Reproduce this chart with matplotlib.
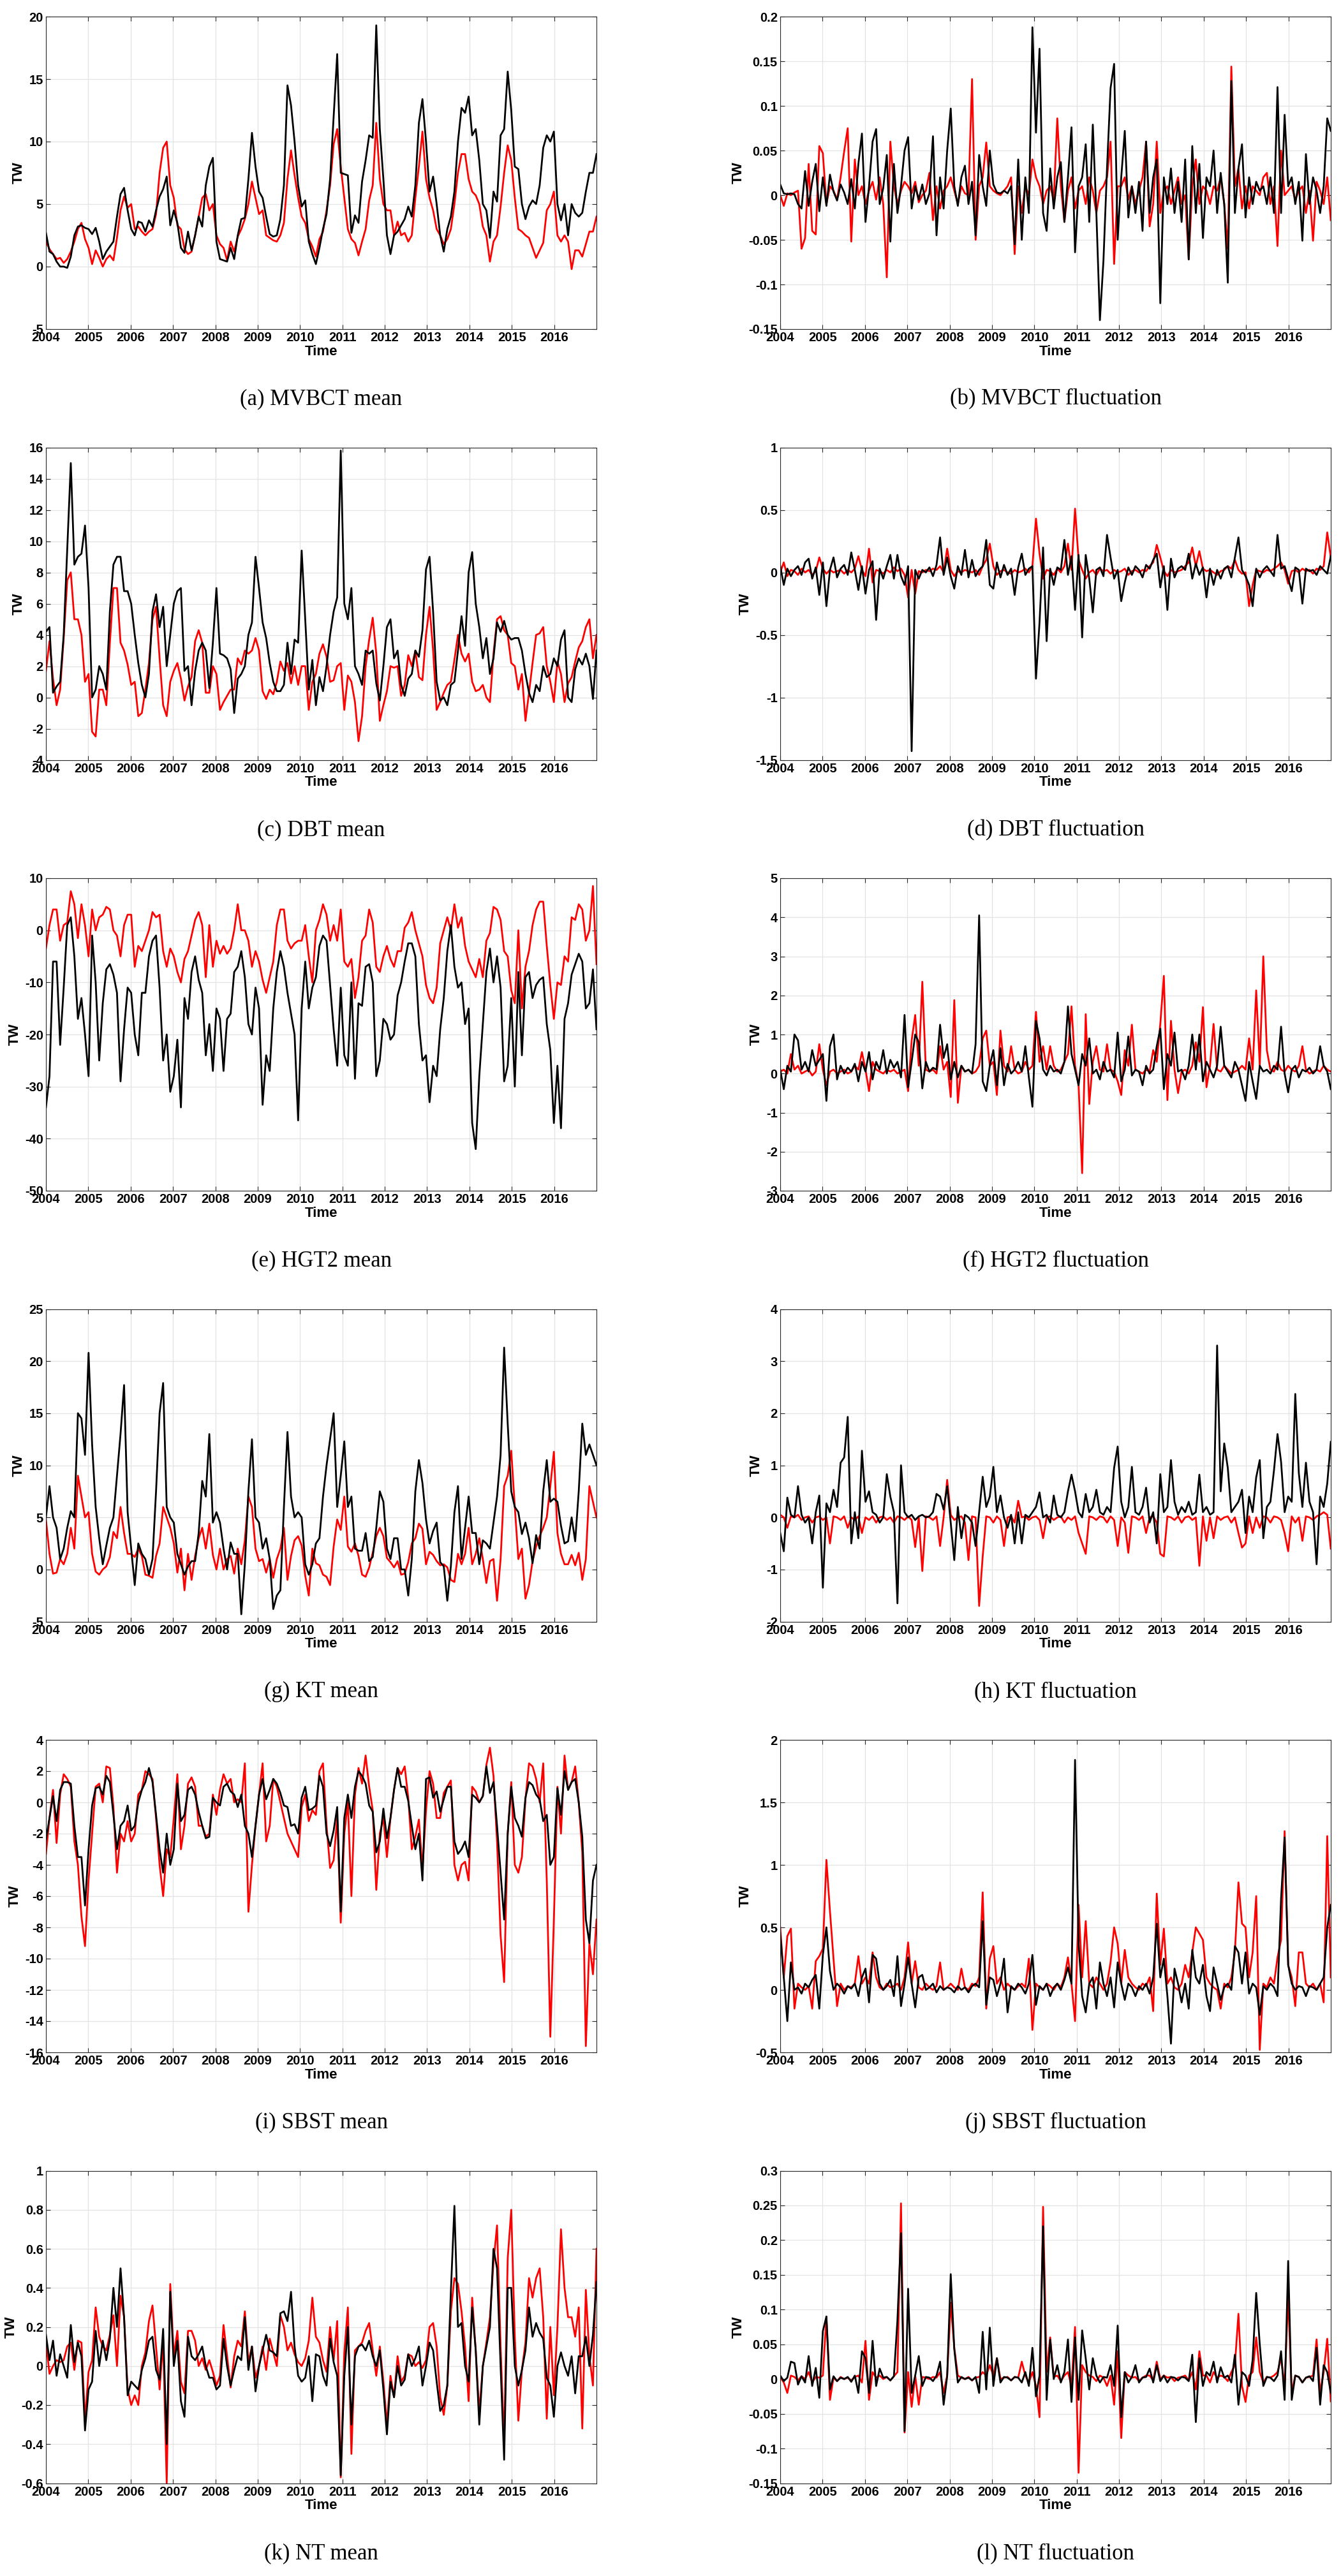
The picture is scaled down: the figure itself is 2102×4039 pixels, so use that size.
import matplotlib
matplotlib.use("Agg")
import matplotlib.pyplot as plt
from matplotlib.ticker import FuncFormatter
import numpy as np

# monthly readings, Jan 2004 .. Dec 2016 (12 values per line = one year)

mvbct_mean_red = [
    2.0, 1.4, 1.0, 0.6, 0.7, 0.3, 0.6, 1.2, 2.0, 3.0, 3.5, 2.2,
    1.5, 0.2, 1.3, 0.7, 0.0, 0.6, 0.9, 0.5, 2.3, 4.5, 5.6, 4.7,
    5.0, 3.0, 3.2, 2.8, 2.5, 2.8, 3.0, 4.2, 7.5, 9.5, 10.0, 6.5,
    5.5, 3.3, 3.0, 1.4, 1.0, 1.2, 2.5, 4.0, 5.5, 5.8, 4.5, 5.0,
    2.5, 1.8, 1.5, 0.5, 2.0, 1.2, 2.4, 3.0, 3.8, 5.0, 6.8, 5.5,
    4.2, 4.5, 2.5, 2.3, 2.1, 2.0, 2.5, 3.5, 7.0, 9.3, 7.3, 5.5,
    4.0, 3.5, 2.2, 1.6, 0.8, 2.2, 2.8, 4.5, 6.5, 9.8, 11.0, 8.0,
    5.5, 3.0, 2.2, 1.9, 0.9, 2.0, 3.0, 5.3, 6.5, 11.5, 7.0, 5.0,
    4.5, 4.5, 2.5, 3.6, 2.5, 2.7, 2.0, 2.5, 5.5, 8.0, 10.8, 7.0,
    5.5, 4.5, 3.0, 2.5, 1.8, 2.2, 3.0, 5.0, 7.5, 9.0, 9.0, 7.0,
    6.0, 5.7, 5.0, 3.2, 2.5, 0.4, 2.0, 2.5, 4.8, 7.5, 9.7, 8.5,
    5.5, 3.0, 2.8, 2.5, 2.3, 1.5, 0.7, 1.3, 1.9, 4.5, 5.0, 6.0,
    2.5, 2.0, 2.5, 2.0, -0.2, 1.3, 1.3, 0.8, 1.8, 2.8, 2.8, 4.0]
mvbct_mean_black = [
    2.7, 1.2, 1.0, 0.4, 0.0, 0.0, -0.1, 0.8, 2.5, 3.2, 3.3, 3.1,
    3.0, 2.6, 3.1, 2.0, 0.6, 1.2, 1.6, 2.0, 4.0, 5.8, 6.3, 4.5,
    3.0, 2.5, 3.6, 3.5, 2.8, 3.7, 3.2, 4.5, 5.6, 6.2, 7.2, 3.3,
    4.5, 3.5, 1.5, 1.1, 2.8, 1.3, 2.5, 4.0, 3.2, 6.5, 8.0, 8.7,
    2.0, 0.6, 0.5, 0.4, 1.5, 0.6, 2.5, 3.8, 3.9, 7.0, 10.7, 8.0,
    6.0, 5.5, 4.0, 2.6, 2.4, 2.5, 3.8, 6.5, 14.5, 12.9, 10.0, 6.5,
    4.8, 5.3, 2.0, 1.0, 0.2, 1.5, 3.0, 4.2, 7.0, 12.0, 17.0, 7.5,
    7.4, 7.3, 2.7, 4.1, 3.5, 6.8, 8.5, 10.5, 10.3, 19.3, 11.0, 7.0,
    2.5, 1.0, 2.5, 2.8, 3.3, 3.8, 4.8, 4.0, 6.5, 11.5, 13.4, 10.0,
    6.0, 7.2, 5.0, 2.5, 1.2, 3.0, 4.0, 6.0, 10.0, 12.7, 12.3, 13.6,
    10.5, 11.0, 8.5, 5.0, 4.5, 2.3, 6.0, 5.2, 10.5, 11.0, 15.6, 12.5,
    8.0, 7.8, 5.0, 3.8, 4.8, 5.3, 5.0, 6.5, 9.5, 10.5, 10.0, 10.8,
    5.0, 3.7, 5.0, 2.5, 5.0, 4.3, 4.0, 4.3, 6.0, 7.5, 7.5, 9.0]

mvbct_fluct_red = [
    0.0, -0.012, 0.002, 0.0, 0.003, 0.005, -0.06, -0.048, 0.035, -0.04, -0.044, 0.055,
    0.047, -0.01, 0.01, 0.005, -0.005, 0.02, 0.049, 0.075, -0.052, 0.04, 0.0, 0.01,
    -0.01, 0.005, 0.015, -0.005, 0.02, -0.01, -0.092, 0.06, 0.01, -0.01, 0.005, 0.015,
    0.01, 0.002, 0.015, -0.008, 0.0, 0.005, 0.025, -0.028, 0.01, -0.015, 0.005, 0.01,
    0.02, 0.005, -0.01, 0.01, 0.002, 0.0, 0.13, -0.05, 0.01, 0.02, 0.059, 0.01,
    0.005, 0.002, 0.0, 0.005, 0.01, 0.02, -0.066, 0.01, -0.02, 0.01, 0.0, 0.04,
    0.02, 0.01, -0.01, 0.005, 0.01, -0.005, 0.086, 0.01, -0.03, 0.005, 0.02, -0.015,
    0.005, 0.01, -0.01, 0.02, 0.005, -0.02, 0.005, 0.01, 0.02, 0.06, -0.077, 0.01,
    0.01, 0.02, -0.005, 0.01, -0.01, 0.005, 0.02, 0.06, -0.035, -0.01, 0.06, -0.02,
    0.005, 0.01, -0.01, 0.005, 0.02, -0.01, 0.0, -0.072, 0.01, 0.04, -0.01, 0.01,
    0.005, -0.01, 0.01, 0.005, 0.02, -0.01, -0.06, 0.144, 0.01, 0.03, -0.015, 0.01,
    -0.015, 0.01, 0.005, 0.0, 0.02, 0.025, -0.01, 0.01, -0.057, 0.05, 0.0, 0.005,
    0.01, -0.005, 0.005, 0.01, -0.02, 0.005, -0.051, 0.015, 0.005, -0.01, 0.02, -0.028]
mvbct_fluct_black = [
    0.012, 0.002, 0.001, 0.002, 0.001, -0.01, -0.015, 0.027, -0.012, 0.015, 0.035, -0.018,
    0.02, -0.012, 0.023, 0.004, -0.006, 0.012, 0.003, -0.01, 0.018, -0.015, 0.035, 0.069,
    -0.03, 0.01, 0.06, 0.074, -0.01, 0.008, 0.045, -0.052, 0.035, -0.02, 0.01, 0.05,
    0.065, -0.015, 0.01, -0.005, 0.012, -0.01, 0.002, 0.066, -0.045, 0.02, -0.015, 0.05,
    0.097, 0.01, -0.012, 0.02, 0.033, -0.01, 0.015, -0.045, 0.045, 0.01, -0.012, 0.05,
    0.012, 0.003, 0.002, 0.005, 0.002, 0.01, -0.055, 0.04, -0.05, 0.02, -0.02, 0.188,
    0.07, 0.164, -0.02, -0.04, 0.03, -0.015, 0.02, 0.037, -0.03, 0.02, 0.076, -0.064,
    0.01, 0.02, 0.057, -0.03, 0.079, -0.02, -0.14, -0.073, 0.03, 0.12, 0.147, -0.05,
    0.02, 0.072, -0.025, 0.01, -0.02, 0.015, -0.04, 0.06, -0.02, 0.02, 0.04, -0.121,
    0.02, -0.01, 0.03, -0.02, 0.015, -0.03, 0.04, -0.072, 0.055, -0.02, 0.035, -0.048,
    0.02, 0.01, 0.05, -0.02, 0.025, -0.01, -0.098, 0.128, -0.02, 0.03, 0.057, -0.025,
    0.02, -0.01, 0.015, 0.005, 0.01, -0.01, 0.02, -0.02, 0.121, -0.02, 0.09, 0.01,
    0.02, -0.01, 0.015, -0.051, 0.046, -0.01, 0.02, 0.005, -0.02, 0.01, 0.086, 0.072]

dbt_mean_red = [
    1.7, 3.6, 1.2, -0.5, 0.5, 3.8, 7.5, 8.0, 5.0, 5.0, 4.0, 1.0,
    1.5, -2.2, -2.5, 0.5, 0.5, -0.5, 3.5, 7.0, 7.0, 3.5, 3.0, 2.1,
    0.8, 1.0, -1.2, -1.0, 0.5, 2.2, 5.0, 5.8, 2.5, -0.5, -1.2, 1.0,
    1.7, 2.2, 1.2, -0.2, 0.7, 1.3, 3.6, 4.3, 3.5, 0.3, 0.3, 2.0,
    1.5, -0.8, -0.3, 0.1, 0.5, 0.5, 2.5, 2.1, 3.0, 2.8, 3.0, 3.8,
    3.0, 0.4, -0.1, 0.5, 0.2, 1.0, 2.3, 1.7, 2.2, 0.9, 2.0, 0.8,
    2.0, 2.0, -0.8, 1.0, 1.5, 2.8, 3.4, 2.6, 1.0, 1.1, 2.0, 2.2,
    -0.8, 1.4, 1.0, -0.3, -2.8, -1.2, 2.0, 3.7, 5.1, 2.8, -1.5, -0.5,
    0.4, 2.0, 1.9, 2.0, 0.1, 0.8, 2.7, 2.0, 3.0, 1.3, 1.1, 4.0,
    5.8, 3.0, -0.8, -0.3, 0.3, 0.8, 1.0, 2.4, 4.0, 2.8, 2.3, 2.8,
    1.0, 0.4, 0.5, 0.8, 0.0, -0.3, 2.8, 5.0, 5.2, 4.3, 4.0, 2.2,
    2.0, 0.5, 1.5, -1.5, 0.3, 2.2, 4.0, 4.1, 4.5, 2.0, 1.0, -0.3,
    2.3, 1.5, -0.3, 0.9, 1.3, 2.3, 3.2, 3.6, 4.5, 5.0, 2.5, 4.0]
dbt_mean_black = [
    4.2, 4.5, 0.3, 0.7, 1.0, 4.0, 9.5, 15.0, 8.5, 9.0, 9.2, 11.0,
    7.0, 0.0, 0.5, 2.0, 1.5, 0.5, 5.5, 8.5, 9.0, 9.0, 6.8, 6.8,
    6.0, 4.0, 2.2, 0.8, 0.0, 1.5, 5.5, 6.6, 4.5, 5.8, 2.0, 4.0,
    6.0, 6.8, 7.0, 1.7, 2.0, -0.5, 1.7, 3.0, 3.5, 3.0, 0.6, 3.5,
    7.0, 2.8, 2.7, 2.5, 1.8, -1.0, 1.2, 1.5, 2.0, 4.0, 4.8, 9.0,
    7.0, 4.8, 3.8, 2.2, 1.0, 0.4, 0.4, 0.8, 3.5, 1.5, 3.7, 3.5,
    9.4, 5.0, 0.5, 2.4, -0.5, 1.3, 0.4, 2.0, 4.0, 5.5, 6.4, 15.8,
    6.0, 5.0, 7.0, 2.0, 1.5, 0.8, 3.0, 2.8, 3.0, 0.9, -0.2, 2.0,
    4.5, 5.0, 2.5, 3.0, 0.8, 0.1, 1.2, 1.5, 3.0, 2.6, 4.3, 8.2,
    9.0, 5.5, 1.0, -0.2, 0.0, -0.5, 0.8, 1.0, 3.0, 5.2, 3.3, 8.0,
    9.3, 6.0, 4.5, 2.5, 3.8, 1.5, 2.5, 4.8, 4.2, 4.9, 4.0, 3.7,
    3.8, 3.8, 3.0, 1.5, 0.3, -0.3, 0.8, 0.4, 2.0, 1.3, 1.5, 2.5,
    2.0, 3.7, 4.3, 0.0, -0.3, 1.8, 2.5, 2.1, 2.8, 2.0, -0.1, 3.0]

dbt_fluct_red = [
    0.0, 0.08, -0.03, 0.02, 0.01, -0.02, 0.03, 0.0, 0.02, -0.02, 0.01, 0.12,
    0.03, -0.01, 0.02, 0.0, 0.01, 0.02, -0.01, 0.02, 0.0, 0.03, 0.13, 0.02,
    -0.03, 0.19, -0.08, 0.02, 0.01, -0.01, 0.02, 0.0, 0.04, 0.01, 0.03, -0.02,
    -0.2, 0.02, -0.17, 0.01, 0.0, 0.02, 0.01, 0.03, 0.02, 0.05, 0.0, 0.19,
    0.02, -0.03, 0.01, 0.0, 0.02, 0.01, 0.0, 0.02, -0.02, 0.05, 0.1, 0.23,
    0.05, -0.02, 0.01, 0.02, 0.0, -0.01, 0.02, 0.0, 0.01, 0.03, 0.0, 0.05,
    0.43, 0.15, -0.05, 0.02, 0.01, -0.02, 0.03, 0.0, 0.05, 0.23, 0.02, 0.51,
    0.1, 0.02, -0.05, 0.0, 0.02, -0.02, 0.03, 0.01, 0.02, -0.01, 0.02, 0.0,
    0.01, 0.03, -0.02, 0.01, 0.02, 0.0, 0.02, 0.01, 0.05, 0.08, 0.22, 0.12,
    0.01, -0.03, 0.02, 0.0, 0.01, 0.02, 0.05, 0.08, 0.2, 0.05, 0.17, 0.03,
    0.01, 0.02, 0.0, -0.02, 0.01, 0.02, 0.05, 0.03, 0.1, 0.02, -0.01, 0.0,
    -0.27, -0.1, 0.02, 0.01, 0.0, 0.02, 0.01, 0.03, 0.05, 0.08, 0.02, -0.09,
    0.01, 0.02, 0.0, 0.03, 0.01, 0.02, -0.01, 0.03, 0.02, 0.05, 0.32, 0.12]
dbt_fluct_black = [
    0.05, -0.1, 0.03, -0.03, 0.02, 0.05, -0.02, 0.08, 0.11, -0.05, 0.04, -0.18,
    0.08, -0.27, 0.02, 0.12, -0.04, 0.03, 0.06, -0.02, 0.16, 0.02, -0.14, 0.05,
    -0.17, 0.02, 0.09, -0.38, 0.03, -0.05, 0.05, 0.14, -0.05, 0.14, -0.03, -0.1,
    0.05, -1.43, 0.02, -0.05, 0.02, 0.0, 0.04, -0.03, 0.06, 0.28, -0.02, 0.12,
    -0.03, -0.13, 0.05, -0.02, 0.18, -0.04, 0.1, -0.03, 0.02, 0.05, 0.26, -0.1,
    -0.13, 0.08, -0.04, 0.06, -0.02, 0.03, -0.18, 0.04, 0.15, -0.02, 0.03, 0.05,
    -0.85, -0.4, 0.2, -0.55, 0.03, -0.1, 0.04, 0.02, 0.26, -0.02, 0.13, -0.3,
    0.14, -0.52, 0.14, -0.05, -0.32, 0.02, 0.04, -0.03, 0.3, 0.12, -0.05, 0.02,
    -0.23, -0.08, 0.04, -0.02, 0.05, 0.02, -0.04, 0.06, 0.03, 0.1, 0.15, -0.12,
    0.05, -0.3, 0.11, -0.04, 0.03, 0.05, 0.02, 0.15, -0.05, 0.07, -0.02, 0.04,
    -0.2, 0.03, -0.1, 0.02, -0.05, 0.03, 0.05, -0.04, 0.12, 0.28, 0.02, -0.03,
    -0.1, -0.27, 0.03, -0.04, 0.02, 0.05, 0.01, -0.03, 0.3, 0.03, 0.05, -0.05,
    -0.15, 0.04, 0.02, -0.25, 0.03, 0.01, 0.02, -0.02, 0.05, 0.02, -0.01, 0.13]

hgt2_mean_red = [
    -3.5, 1, 4, 4, -2, 1, 1.5, 7.5, 5, -1.5, 5, 1,
    -5, 4, 0, 2.5, 3, 4.5, 4, 0, -1, -5, 1, 3,
    3, -7, -3, -4, -2, 0, 3.5, 2.5, 3, -4, -7, -3.5,
    -5, -8, -10, -5.5, -4, -1, 2, 3.5, 1, -9, 1, -7,
    -2, -4.5, -3, -4.5, -3.5, 0, 5, 0, 0, -2, -7, -4,
    -6, -9.5, -12, -9, -6, 1, 4, 4, -2, -3.5, -2.5, -2,
    -2, 1, -5, -10, 0, 2, 5, 3, -2, 1, -2, 4,
    -6, -7, -5.5, -13, -9, -2, -1, 4, 1.5, -7, -8, -5,
    -3, -5.5, -7, -4, -4, 0.5, 1.5, 3.5, 0, -2.5, -5, -10.5,
    -13, -14, -11, -2.5, 0, 2.5, 0, 5, 0.5, 2.5, -3, -6,
    -7.5, -9, -5.5, -9, -2, -0.5, 4.5, 4, 2, -4, -5, -11.5,
    -14, 0, -15, -7, -4, 1, 4, 5.5, 5.5, -3, -10.5, -17,
    -10, -10.5, -5, -6, 2.5, 2, 5, 4, -2, 0, 8.5, -6.5]
hgt2_mean_black = [
    -34, -28, -6, -6, -22, -11, 1, 2.5, -5, -17, -13, -20,
    -28, -1, -10, -25, -14, -7.5, -6.5, -8.5, -12, -29, -19, -11,
    -12, -20, -24, -12, -12, -5, -2, -1, -11, -25, -20, -31,
    -28, -21, -34, -13, -17, -8, -5, -9.5, -12, -24, -18, -27,
    -15, -17, -27, -17, -16, -8, -7, -4, -9, -18, -20, -11,
    -15, -33.5, -24, -27, -15, -8, -4, -7, -12, -16, -20, -36.5,
    -15, -6, -15, -11, -9, -3, -1, -2, -10.5, -19, -26, -11,
    -24, -26, -10, -28.5, -14, -14.5, -7, -6.5, -10, -28, -25, -17,
    -18, -21, -20, -12.5, -10, -6, -2.5, -2.5, -5, -18, -25, -24,
    -33, -26, -28, -19, -13, -4, 1, -7, -11, -10, -18, -15,
    -37, -42, -28, -18, -8, -3.5, -10, -5, -11, -29, -26, -13,
    -30, -8, -24, -9, -8, -13, -10.5, -9.5, -9, -18, -23, -37,
    -26, -38, -17, -14, -8.5, -6.5, -4.5, -6, -15, -14, -7.5, -19]

hgt2_fluct_red = [
    0.05, 0.1, 0.0, 0.5, 0.1, 0.2, 0.0, 0.05, 0.1, -0.05, 0.05, 0.75,
    0.1, -0.3, 0.05, 0.1, 0.0, 0.05, 0.1, 0.0, 0.05, 0.2, 0.1, 0.55,
    0.1, -0.45, 0.3, 0.1, 0.05, 0.0, 0.1, 0.05, 0.1, 0.0, 0.05, 0.1,
    -0.45, 0.85, 1.5, 0.2, 2.35, 0.1, 0.05, 0.1, 0.0, 0.7, 0.1, 0.3,
    -0.6, 1.88, -0.75, 0.2, 0.05, 0.1, 0.0, 0.05, 0.2, 0.9, 1.1, 0.2,
    0.3, -0.55, 1.1, 0.2, 0.05, 0.7, 0.1, 0.0, 0.05, 0.3, 0.1, 0.2,
    1.58, 0.3, 0.7, 0.1, 0.7, 0.2, 0.05, 0.1, 0.3, 0.5, 1.72, 0.2,
    -0.3, -2.55, 1.52, -0.78, 0.3, 0.7, 0.1, 0.05, 0.75, 0.1, 0.05, -0.2,
    -0.55, 0.6, 0.2, 1.25, 0.1, 0.05, 0.0, 0.1, 0.05, 0.6, 0.3, 1.27,
    2.5, -0.68, 1.35, 0.1, -0.5, 0.05, 0.1, 0.0, 0.2, 0.8, 0.3, 1.7,
    -0.35, 0.2, 1.27, 0.1, 0.05, 0.2, 0.1, 0.0, 0.05, 0.1, 0.2, 0.1,
    0.9, 0.1, 2.13, 0.2, 3.0, 0.6, 0.1, 0.05, 0.3, 0.1, 0.05, 0.2,
    0.1, 0.05, 0.2, 0.7, 0.1, 0.0, 0.05, 0.1, 0.05, 0.2, 0.1, 0.05]
hgt2_fluct_black = [
    0.1, -0.4, 0.2, 0.05, 1.0, 0.85, 0.1, 0.3, 0.05, 0.6, 0.2, 0.35,
    0.5, -0.7, 0.7, 1.0, -0.15, 0.2, 0.0, 0.15, 0.05, 0.25, -0.2, 0.3,
    0.05, 0.55, -0.15, 0.3, 0.1, 0.6, 0.0, 0.35, 0.15, 0.3, -0.1, 1.5,
    -0.35, 0.3, 1.0, 0.8, -0.38, 0.3, 0.05, 0.15, 0.1, 1.25, 0.4, 0.75,
    -0.15, 0.3, -0.1, 0.2, 0.05, 0.1, 0.0, 0.75, 4.05, -0.2, -0.45, 0.2,
    0.6, -0.3, 0.65, -0.3, 0.25, 0.0, 0.1, 0.3, 0.05, 0.7, -0.1, -0.85,
    1.35, 0.9, 0.1, -0.05, 0.2, 0.05, 0.1, 0.0, 0.3, 1.72, 0.5, 0.1,
    -0.3, 0.5, 0.2, 0.9, 0.0, 0.1, -0.15, 0.3, 0.05, 0.1, -0.1, 1.05,
    -0.2, 0.1, 0.95, -0.05, 0.1, 0.05, -0.3, 0.2, 0.0, 0.1, 0.7, 1.15,
    -0.4, 0.5, 0.2, 1.05, 0.05, 0.1, -0.15, 0.2, 1.0, 0.1, 1.0, -0.2,
    0.3, 0.1, -0.1, 0.2, 1.2, 0.2, 0.05, -0.1, 0.3, 0.1, -0.3, -0.7,
    0.3, -0.2, -0.65, 0.2, 0.05, 0.1, 0.0, 0.2, 0.1, 1.2, 0.0, -0.48,
    0.1, 0.2, -0.1, 0.1, 0.05, 0.15, 0.0, 0.1, 0.7, 0.2, 0.05, -0.4]

kt_mean_red = [
    4.8, 1.5, -0.4, -0.3, 1, 0.5, 1.5, 4, 2, 9, 7, 5,
    5.5, 1.5, -0.2, -0.5, 0, 0.3, 1.2, 3.6, 3, 6, 3.5, 1.5,
    1.5, 1.2, 2, 1.3, -0.5, -0.6, -0.8, 1.3, 2.5, 6, 5, 4,
    2.5, -0.3, 2, -2, 1.5, -1, 1.3, 3, 4, 2, 4.4, 1.4,
    0, 2, 0, 1, 1.3, -0.4, 2, 0.5, 2.8, 7, 6, 2,
    0.8, 1, -0.3, 1, -0.8, 1, 2, 4, -1, 1.3, 2.8, 3.2,
    2.3, -0.6, -2.5, 2, 0.6, 0.4, -0.5, -0.7, -1.5, 2.2, 4.8, 3.8,
    7, 2.2, 1.7, 2.5, 1.3, -0.5, -0.7, 0.2, 1.6, 3.2, 4, 3.2,
    1.1, 0.7, 0.2, 0.8, -0.5, -0.4, 0.7, 2.5, 3, 4.4, 3.9, 0.5,
    1.7, 1.4, 0.8, 0.4, 0.5, 0.2, -1, -1.2, 1.5, 0.5, 1.5, 4,
    0.5, 1.5, 3, 1, -1.3, 0.8, 1, -3, 1, 8, 9, 11.4,
    6, 1, 2, -2.8, -1.5, 0.8, 2.2, 3.2, 4, 5, 8, 11.3,
    3.5, 1.5, 0.5, 0.5, 1.4, 0.4, 1.6, -1, 1, 8, 6.5, 5]
kt_mean_black = [
    5, 8, 5, 4, 1, 2, 4, 5.6, 5, 15, 14.5, 11,
    20.8, 12, 6, 3, 0.5, 2.3, 4, 5, 9, 13, 17.7, 5.5,
    2, -1.5, 2.5, 1.5, 1, -0.5, 1, 7.5, 15, 17.9, 6, 5,
    4.5, 1.5, 0.5, -0.5, 0.3, 0.8, 0.8, 3.5, 8.5, 7, 13, 4.5,
    5.5, 4.5, 2, 0, 2.6, 1.5, 1.5, -4.3, 0.5, 7.5, 12.5, 5,
    4.5, 2, 3, 1, -3.8, -2.5, -2, 6, 13.2, 7, 5, 5.5,
    5, 0.5, -0.5, 0.5, 2.5, 3, 7, 10, 12.5, 15, 6, 9,
    12.3, 6, 7, 2, 1.8, 1.8, 3.5, 0.8, 1.2, 4, 7.5, 6.5,
    2, 1, 3, 3, 0, 0, -2.5, 1, 7.5, 10.5, 8.3, 4.8,
    2.5, 3.7, 4.5, 0.7, 0.3, -3, 0.3, 5.5, 8, 1, 4, 7,
    3.5, 3.5, 0.5, 2.8, 2.5, 2, 4.5, 7, 11, 21.3, 14, 7.5,
    6, 5.5, 3.4, 4.5, 3, 0.6, 3.3, 2, 7.5, 10.5, 6.5, 6.8,
    6.5, 4.2, 2.5, 2.7, 5, 2.7, 7.5, 14, 11, 12, 11, 10]

kt_fluct_red = [
    0.05, 0.0, -0.2, 0.02, 0.0, 0.05, -0.05, 0.0, 0.02, -0.1, 0.0, 0.02,
    -0.05, 0.0, -0.5, 0.02, 0.0, -0.05, 0.02, -0.2, 0.0, -0.05, 0.02, -0.3,
    0.0, -0.05, 0.02, -0.1, 0.0, 0.02, -0.05, 0.0, -0.1, 0.02, 0.0, -0.05,
    0.02, -0.05, -0.57, 0.0, -1.03, 0.02, 0.0, -0.05, 0.02, -0.55, 0.0, 0.72,
    0.05, -0.05, 0.0, 0.02, -0.1, -0.82, 0.02, 0.0, -1.7, -0.75, 0.02, 0.0,
    -0.1, 0.02, -0.05, -0.55, 0.0, 0.02, -0.1, 0.32, 0.0, 0.02, -0.05, 0.0,
    0.02, -0.05, -0.4, 0.0, 0.02, -0.05, 0.0, 0.02, -0.1, 0.0, -0.05, 0.02,
    -0.3, -0.5, -0.7, 0.02, 0.0, -0.05, 0.02, 0.0, -0.1, 0.02, -0.05, -0.55,
    0.0, -0.1, -0.68, 0.02, 0.0, -0.05, 0.02, -0.3, 0.0, 0.02, -0.1, -0.7,
    -0.75, 0.02, 0.0, -0.05, 0.02, -0.1, 0.0, 0.02, -0.05, 0.0, -0.93, 0.02,
    -0.45, 0.0, -0.4, 0.02, -0.05, 0.0, 0.02, -0.1, 0.0, -0.3, -0.58, -0.5,
    0.02, -0.3, 0.0, -0.2, 0.02, 0.0, -0.1, 0.02, 0.0, -0.05, -0.3, -0.65,
    0.02, -0.1, 0.0, -0.45, 0.02, 0.0, -0.05, 0.02, 0.05, 0.1, 0.05, -0.6]
kt_fluct_black = [
    -0.3, -0.65, 0.38, 0.05, 0.0, 0.6, 0.05, -0.1, 0.0, -0.5, 0.1, 0.42,
    -1.35, 0.27, 0.1, 0.53, 0.2, 1.05, 1.15, 1.93, -0.5, 0.1, -0.4, 1.28,
    0.3, 0.5, 0.1, 0.05, -0.1, 0.0, 0.83, 0.4, 0.1, -1.65, 1.0, 0.1,
    0.0, 0.05, -0.05, 0.02, 0.05, 0.0, 0.02, 0.1, 0.45, 0.4, 0.15, 0.6,
    -0.1, -0.82, 0.2, -0.4, 0.05, 0.0, -0.1, -0.55, 0.1, 0.78, 0.2, 0.4,
    0.97, 0.1, 0.42, 0.0, -0.2, 0.05, -0.5, 0.1, -0.5, 0.05, 0.0, 0.1,
    0.2, 0.48, 0.0, 0.05, -0.1, 0.42, 0.05, 0.0, 0.1, 0.5, 0.82, 0.5,
    0.1, 0.0, 0.45, 0.1, 0.2, 0.53, 0.1, 0.05, 0.2, 0.1, 0.95, 1.36,
    0.3, 0.0, 0.2, 0.97, 0.1, 0.05, 0.2, 0.57, -0.1, 0.1, -0.5, 0.83,
    0.1, 0.2, 1.1, 0.3, 0.05, 0.2, 0.1, 0.3, 0.05, 0.1, 0.82, 0.1,
    0.2, 0.05, 0.1, 3.3, 0.5, 1.42, 0.95, 0.1, 0.2, 0.3, 0.53, -0.3,
    0.4, 0.1, 0.77, 1.1, -0.4, 0.2, 0.3, 0.9, 1.6, 1.07, 0.1, 0.4,
    0.3, 2.37, 0.85, 0.2, 1.05, 0.3, 0.1, -0.9, 0.4, 0.2, 0.65, 1.45]

sbst_mean_red = [
    -3.3, -1, 0.8, -2.6, 0.5, 1.8, 1.5, 1, -2.5, -4, -7.3, -9.2,
    -5, -2, 1, 1.2, 0, 2.3, 2.2, -0.3, -4.5, -2, -2.5, -1.2,
    -2.5, -2, 0.5, 0.8, 2, 1.8, 1.5, -1, -4, -6, -3, -3.5,
    -1, 1.8, -3, -1.5, 1.2, 1.6, 1, -1.5, -1.5, -2.2, -2, 0.5,
    -0.8, 0.8, 1.8, 1.2, 1.5, 0, 0.2, 0, 2.5, -7, -4, -1.5,
    0.5, 2.5, -2.5, -1.5, 1.5, 1, 0, -1, -2, -2.5, -3, -3.5,
    -0.3, 0.5, -1.2, -0.5, -0.8, 2, 2.5, -1.5, -4.2, -3.7, -1, -7.7,
    -2, 0, -6, 0.5, 2.2, 1.2, 3, 1, -0.5, -5.6, -2, -1,
    -3.5, -1, 0.8, 2.2, 1.8, 2.3, 0.3, -3, -2.2, -1.1, -4.3, -0.5,
    2, 1.2, -1, -1, 0.6, 1, 1.4, -4, -5, -4, -3.8, -5,
    1, 0.7, 0, 0.4, 2.4, 3.5, 1.7, -2.5, -8.5, -11.5, -2, 1.3,
    -4, -4.5, -3.5, 0.2, 2.5, 2.3, 1.5, 0, 2.5, -5, -15, -7.5,
    1, -2, 3, 0.8, 1.3, 2.3, 0, -3.2, -15.6, -9, -11, -7.5]
sbst_mean_black = [
    -2.4, -1, 0.4, -1.2, 0.8, 1.3, 1.3, 1.2, -1.5, -3.5, -3.5, -6.6,
    -3, -0.2, 0.9, 1, 0.5, 1.7, 1.3, -0.8, -3, -1.5, -1.2, -0.2,
    -1.8, -1.5, 0, 0.8, 1.3, 2.2, 1.3, -0.8, -3, -4.5, -2, -4,
    -3, 1.2, -1.2, -0.8, 0.8, 1, 0.5, -0.6, -1.5, -2.3, -2.2, 0.3,
    0, -0.2, 1, 1.2, 0.7, 0.5, -0.3, 0.5, -1.5, -2, -3.5, -1.5,
    0.5, 1.5, 0.2, 0.8, 1.5, 1.2, 0.6, -0.2, -0.3, -1.5, -1.4, -2,
    0.3, 1, -0.5, -0.4, -0.2, 1.7, 1, -2, -2.8, -1.8, -0.3, -7,
    -1, 0.5, -1, 1, 2, 1.7, 1.2, -0.2, -0.6, -3.2, -2.5, -0.4,
    -2.3, -1, 0.8, 2.2, 1, 1, 0.1, -1.5, -3, -2, -5, 1.5,
    1.6, 0.3, 0.7, -0.6, 0.2, 1, 1, -2.5, -3.3, -3, -2.5, -3.5,
    0.5, 0.3, 0, 0.4, 2.3, 0.6, 1.3, -1.5, -4.5, -7.5, -2, 1,
    -1, -1.5, -2.2, 0.3, 1.3, 1.1, 0.5, 0.2, -1.2, -0.8, -4, -3.5,
    0.9, -0.8, 2, 0.8, 1.3, 1.5, 0, -2.2, -7.5, -9, -5, -4]

sbst_fluct_red = [
    0.5, 0.1, 0.43, 0.49, -0.15, 0.05, 0.02, 0.0, 0.03, -0.15, 0.23, 0.27,
    0.33, 1.04, 0.63, 0.25, -0.13, 0.05, 0.0, 0.03, 0.02, 0.05, 0.27, 0.05,
    0.1, 0.05, 0.3, 0.1, 0.02, 0.0, 0.05, 0.02, 0.03, 0.05, 0.0, 0.1,
    0.38, 0.05, 0.23, 0.02, 0.0, 0.05, 0.02, 0.0, 0.03, 0.22, 0.0, 0.02,
    0.05, 0.02, 0.0, 0.17, 0.02, 0.0, 0.05, 0.03, 0.1, 0.78, -0.15, 0.25,
    0.35, 0.05, 0.1, 0.0, 0.05, 0.02, 0.0, 0.03, 0.05, 0.02, 0.25, -0.32,
    0.05, 0.02, 0.0, 0.05, 0.03, 0.0, 0.05, 0.02, 0.1, 0.26, 0.05, -0.25,
    0.68, 0.1, 0.55, 0.05, 0.02, 0.1, 0.05, 0.0, 0.05, 0.22, 0.5, 0.37,
    0.05, 0.32, 0.1, 0.05, 0.02, 0.0, 0.05, 0.03, 0.1, -0.17, 0.77, 0.2,
    0.49, 0.05, 0.1, 0.02, 0.0, 0.05, 0.2, 0.1, 0.3, 0.5, 0.45, 0.4,
    0.1, 0.05, 0.02, 0.0, -0.15, 0.05, 0.02, 0.1, 0.3, 0.86, 0.53, 0.5,
    0.1, 0.3, 0.75, -0.48, 0.05, 0.02, 0.1, 0.05, 0.26, 0.4, 1.27, 0.2,
    0.1, -0.13, 0.3, 0.3, 0.05, 0.02, 0.05, 0.0, 0.05, -0.1, 1.23, 0.1]
sbst_fluct_black = [
    0.45, 0.1, -0.25, 0.22, 0.0, 0.02, -0.03, 0.05, 0.02, 0.08, 0.12, -0.15,
    0.28, 0.5, 0.15, 0.0, 0.05, 0.02, -0.03, 0.03, 0.01, 0.05, -0.05, 0.1,
    0.17, -0.1, 0.28, 0.25, 0.05, 0.0, 0.03, 0.08, -0.05, 0.27, -0.13, 0.05,
    0.26, 0.05, -0.14, 0.1, 0.12, 0.0, 0.02, 0.05, -0.02, 0.03, 0.0, 0.02,
    0.01, -0.02, 0.03, 0.0, 0.02, -0.02, 0.03, 0.05, 0.02, 0.55, -0.12, 0.1,
    0.08, -0.05, 0.05, 0.25, -0.18, 0.03, 0.0, 0.05, 0.02, -0.03, 0.05, 0.28,
    -0.12, 0.03, 0.0, 0.05, -0.05, 0.02, 0.05, 0.0, 0.08, 0.18, 0.05, 1.84,
    0.37, -0.05, -0.18, 0.05, 0.1, -0.15, 0.22, 0.05, -0.05, 0.1, -0.14, 0.22,
    0.05, -0.08, 0.05, 0.02, -0.05, 0.03, 0.0, 0.05, -0.03, 0.1, 0.53, 0.1,
    0.25, -0.05, -0.43, 0.17, 0.05, -0.1, 0.05, -0.15, 0.32, 0.1, 0.05, 0.2,
    -0.05, -0.17, 0.18, 0.05, -0.08, 0.02, 0.05, 0.0, 0.35, 0.3, 0.05, 0.3,
    -0.03, 0.05, 0.02, -0.2, 0.03, 0.0, 0.05, 0.02, -0.05, 0.73, 1.22, 0.2,
    0.05, 0.0, 0.03, 0.02, -0.05, 0.03, 0.02, 0.0, 0.05, 0.1, 0.5, 0.68]

nt_mean_red = [
    0.12, -0.04, 0.0, 0.03, 0.02, 0.03, 0.1, 0.12, -0.02, 0.13, 0.12, -0.28,
    -0.03, 0.03, 0.3, 0.15, 0.1, 0.08, 0.16, 0.26, 0.0, 0.36, 0.25, -0.12,
    -0.2, -0.15, -0.2, 0.0, 0.07, 0.23, 0.31, 0.1, -0.12, 0.13, -0.6, 0.42,
    0.05, 0.18, -0.08, -0.14, 0.18, 0.18, 0.13, 0.0, 0.04, -0.02, 0.03, -0.03,
    -0.1, -0.05, 0.21, 0.05, -0.11, 0.05, 0.13, 0.1, 0.28, 0.02, 0.1, -0.06,
    0.0, 0.1, -0.02, 0.14, 0.07, 0.0, 0.26, 0.2, 0.08, 0.12, 0.06, 0.02,
    0.0, 0.04, 0.13, 0.35, 0.15, 0.12, 0.03, -0.03, 0.2, 0.03, 0.23, -0.57,
    0.07, 0.3, -0.45, 0.08, 0.1, 0.12, 0.18, 0.22, 0.08, -0.05, 0.1, -0.08,
    -0.3, -0.05, -0.16, 0.05, -0.08, -0.05, 0.06, 0.05, 0.0, 0.02, -0.01, 0.03,
    0.2, 0.22, 0.1, -0.16, -0.25, -0.1, 0.28, 0.45, 0.42, 0.28, 0.1, -0.18,
    0.35, 0.08, -0.24, 0.0, 0.12, 0.25, 0.53, 0.72, 0.1, -0.4, 0.55, 0.8,
    0.15, -0.28, -0.02, 0.12, 0.45, 0.35, 0.45, 0.5, 0.25, -0.27, 0.2, -0.15,
    0.2, 0.7, 0.4, 0.25, 0.25, 0.15, 0.3, -0.32, 0.39, 0.05, -0.1, 0.6]
nt_mean_black = [
    0.16, 0.03, 0.13, -0.05, 0.06, 0.0, -0.06, 0.21, 0.02, 0.12, 0.05, -0.33,
    -0.12, -0.08, 0.18, 0.0, 0.13, 0.03, 0.14, 0.4, 0.2, 0.5, 0.25, -0.15,
    -0.08, -0.1, -0.12, -0.02, 0.04, 0.13, 0.15, -0.02, -0.07, 0.19, -0.4, 0.38,
    0.0, 0.13, -0.18, -0.26, 0.15, 0.05, 0.03, 0.06, 0.1, 0.0, -0.06, -0.06,
    -0.12, -0.1, 0.14, 0.0, -0.1, -0.02, 0.05, 0.03, 0.25, -0.02, 0.1, -0.13,
    0.0, 0.08, 0.16, 0.08, 0.07, 0.05, 0.27, 0.28, 0.23, 0.38, 0.1, -0.05,
    -0.08, -0.06, 0.05, -0.18, 0.06, 0.05, -0.05, -0.1, 0.14, 0.02, -0.05, -0.56,
    -0.05, 0.2, -0.3, 0.05, 0.1, 0.11, 0.08, 0.13, 0.05, 0.0, 0.08, -0.12,
    -0.35, -0.08, -0.16, 0.0, -0.1, -0.07, 0.06, 0.0, 0.04, 0.1, -0.1, 0.0,
    0.12, 0.08, -0.08, -0.23, -0.2, -0.1, 0.38, 0.82, 0.2, 0.22, 0.0, -0.08,
    0.3, 0.08, -0.3, 0.0, 0.1, 0.2, 0.6, 0.5, 0.0, -0.48, 0.4, 0.4,
    0.0, -0.1, -0.02, 0.08, 0.3, 0.15, 0.22, 0.17, 0.14, -0.06, -0.1, -0.26,
    0.0, 0.07, 0.0, -0.05, 0.05, -0.14, 0.05, 0.05, 0.15, 0.0, 0.16, 0.43]

nt_fluct_red = [
    0.003, -0.005, -0.02, 0.005, 0.003, -0.002, 0.004, 0.0, 0.01, -0.005, 0.003, 0.002,
    0.005, 0.09, -0.03, 0.002, -0.003, 0.003, 0.0, 0.002, -0.002, 0.003, 0.005, -0.005,
    0.055, -0.03, 0.01, 0.002, 0.005, 0.0, 0.003, -0.002, 0.004, 0.01, 0.253, -0.077,
    0.01, -0.04, 0.005, -0.037, 0.003, 0.002, 0.0, 0.003, 0.002, 0.01, -0.02, 0.005,
    0.11, 0.045, 0.005, 0.002, 0.0, 0.003, -0.002, 0.002, 0.003, 0.01, 0.005, 0.02,
    0.005, 0.03, 0.0, 0.002, 0.003, -0.002, 0.003, 0.002, 0.025, 0.005, -0.005, 0.01,
    -0.01, -0.055, 0.248, 0.01, 0.06, 0.003, 0.005, -0.003, 0.005, 0.01, -0.01, 0.075,
    -0.135, 0.02, 0.01, 0.005, 0.003, -0.003, 0.005, 0.002, -0.01, 0.005, -0.037, 0.04,
    -0.085, 0.01, 0.005, 0.002, 0.003, -0.003, 0.002, 0.005, 0.005, -0.002, 0.025, 0.0,
    0.005, 0.002, 0.003, -0.003, 0.002, 0.003, 0.005, -0.002, 0.01, -0.015, 0.04, 0.005,
    0.005, -0.005, 0.01, 0.002, 0.005, 0.003, -0.003, 0.01, 0.02, 0.094, -0.01, -0.033,
    0.005, 0.01, 0.06, 0.01, -0.005, 0.003, 0.002, 0.005, 0.01, 0.03, -0.01, 0.12,
    -0.02, 0.005, 0.003, -0.005, 0.002, 0.003, 0.005, 0.057, -0.02, 0.01, 0.058, -0.032]
nt_fluct_black = [
    0.005, -0.003, 0.002, 0.025, 0.023, -0.008, 0.004, -0.005, 0.033, -0.01, 0.016, -0.027,
    0.069, 0.09, -0.015, 0.004, -0.003, 0.002, 0.0, 0.003, -0.004, 0.005, -0.02, 0.04,
    0.03, -0.02, 0.055, -0.01, 0.015, 0.002, 0.003, -0.002, 0.004, 0.085, 0.21, -0.075,
    0.13, -0.02, 0.005, 0.033, -0.01, 0.003, 0.002, -0.003, 0.005, 0.025, -0.037, 0.004,
    0.151, 0.043, -0.005, 0.003, 0.0, 0.002, -0.002, 0.003, -0.02, 0.068, -0.015, 0.074,
    -0.01, 0.03, -0.005, 0.003, 0.002, -0.002, 0.003, 0.002, -0.005, 0.01, -0.01, 0.045,
    -0.025, 0.005, 0.22, -0.03, 0.057, 0.0, 0.02, -0.005, 0.01, 0.057, -0.033, 0.06,
    -0.03, 0.07, 0.03, -0.015, 0.03, 0.005, -0.005, 0.003, 0.002, 0.02, -0.01, 0.077,
    -0.055, 0.01, -0.005, 0.003, 0.02, -0.005, 0.002, 0.003, 0.015, -0.005, 0.02, -0.003,
    0.005, -0.005, 0.003, 0.002, -0.002, 0.003, 0.002, -0.003, 0.035, -0.062, 0.03, -0.01,
    0.01, 0.005, 0.025, -0.005, 0.017, 0.002, 0.005, -0.005, 0.035, -0.037, 0.01, 0.005,
    -0.01, 0.028, 0.124, 0.05, -0.01, 0.003, 0.002, -0.003, 0.005, 0.04, -0.03, 0.17,
    -0.03, 0.005, 0.003, -0.005, 0.002, 0.004, -0.003, 0.045, -0.037, 0.02, 0.01, -0.02]

captions = ["(a) MVBCT mean", "(b) MVBCT fluctuation", "(c) DBT mean", "(d) DBT fluctuation",
            "(e) HGT2 mean", "(f) HGT2 fluctuation", "(g) KT mean", "(h) KT fluctuation",
            "(i) SBST mean", "(j) SBST fluctuation", "(k) NT mean", "(l) NT fluctuation"]
reds = [mvbct_mean_red, mvbct_fluct_red, dbt_mean_red, dbt_fluct_red, hgt2_mean_red, hgt2_fluct_red,
        kt_mean_red, kt_fluct_red, sbst_mean_red, sbst_fluct_red, nt_mean_red, nt_fluct_red]
blacks = [mvbct_mean_black, mvbct_fluct_black, dbt_mean_black, dbt_fluct_black, hgt2_mean_black,
          hgt2_fluct_black, kt_mean_black, kt_fluct_black, sbst_mean_black, sbst_fluct_black,
          nt_mean_black, nt_fluct_black]
y_ranges = [(-5, 20, 5), (-0.15, 0.2, 0.05), (-4, 16, 2), (-1.5, 1, 0.5),
            (-50, 10, 10), (-3, 5, 1), (-5, 25, 5), (-2, 4, 1),
            (-16, 4, 2), (-0.5, 2, 0.5), (-0.6, 1, 0.2), (-0.15, 0.3, 0.05)]
years = list(range(2004, 2017))

### PLOT
plt.rcParams['font.family'] = ['Liberation Sans', 'DejaVu Sans']
plt.rcParams['axes.unicode_minus'] = False

W, H = 2102, 4039
fig = plt.figure(figsize=(W / 100.0, H / 100.0), dpi=100)

fmt = FuncFormatter(lambda v, p: '%g' % round(v, 6))

for i in range(12):
    row, col = divmod(i, 2)
    x0 = 72 if col == 0 else 1223
    top = 26 + 675.5 * row
    ax = fig.add_axes([x0 / W, 1 - (top + 490) / H, 863.0 / W, 490.0 / H])

    red, black = reds[i], blacks[i]
    ax.plot(np.linspace(2004, 2017, len(red)), red, color='#ff0000', lw=2.0)
    ax.plot(np.linspace(2004, 2017, len(black)), black, color='k', lw=2.0)

    lo, hi, step = y_ranges[i]
    ax.set_xlim(2004, 2017)
    ax.set_ylim(lo, hi)
    ax.set_yticks(np.arange(lo, hi + step / 2.0, step))
    ax.yaxis.set_major_formatter(fmt)
    ax.set_xticks(years)
    ax.set_xticklabels([str(y) for y in years])

    ax.grid(True, color='#e3e3e3', lw=0.9)
    ax.set_axisbelow(True)
    ax.tick_params(direction='in', top=True, right=True, length=5, width=0.8,
                   labelsize=14.5, pad=3, color='#262626')
    for lab in ax.get_xticklabels() + ax.get_yticklabels():
        lab.set_fontweight('bold')
    for s in ax.spines.values():
        s.set_color('#262626')
        s.set_linewidth(0.8)

    ax.set_xlabel('Time', fontsize=16, fontweight='bold', labelpad=1)
    ax.set_ylabel('TW', fontsize=16, fontweight='bold', labelpad=4)

    fig.text((x0 + 431.5) / W, 1 - (top + 600) / H, captions[i], ha='center', va='center',
             family='Liberation Serif', fontsize=25)

fig.savefig('out.png', dpi=100)
